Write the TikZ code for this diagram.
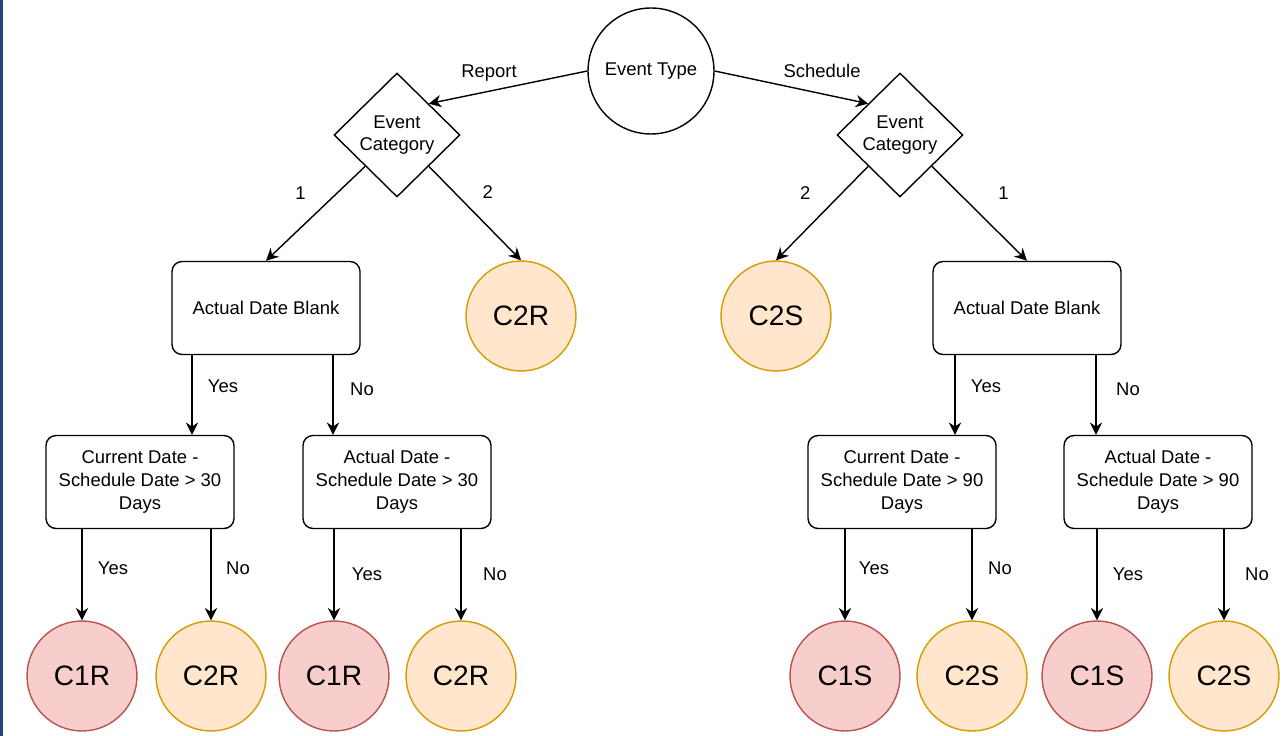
\documentclass[tikz,border=0pt]{standalone}
\usepackage{fontspec}
\setmainfont{Liberation Sans}
\usetikzlibrary{shapes.geometric, arrows.meta}
\definecolor{sidebarcolor}{RGB}{31,73,125}
\definecolor{redfill}{HTML}{F8CECC}
\definecolor{reddraw}{HTML}{B85450}
\definecolor{orangefill}{HTML}{FFE6CC}
\definecolor{orangedraw}{HTML}{D79B00}

\begin{document}
\begin{tikzpicture}[
	x=0.02cm, y=-0.02cm,
	line width=0.8pt,
	every node/.style={font=\fontsize{10.5}{13}\selectfont, align=center},
	root/.style={circle, draw, minimum size=2.52cm, inner sep=0pt},
	decision/.style={diamond, draw, minimum width=2.52cm, minimum height=2.48cm, inner sep=0pt},
	test/.style={rectangle, draw, rounded corners=0.2cm, minimum width=3.76cm, minimum height=1.86cm, inner sep=0pt},
	cone/.style={circle, draw=reddraw, fill=redfill, minimum size=2.2cm, inner sep=0pt, font=\fontsize{16}{19}\selectfont},
	ctwo/.style={circle, draw=orangedraw, fill=orangefill, minimum size=2.2cm, inner sep=0pt, font=\fontsize{16}{19}\selectfont},
	arr/.style={-{Stealth[length=7pt, width=7pt]}},
	lbl/.style={inner sep=0pt},
]
% \vconnect{parent}{child}{x}{pos}{shift}{label}: vertical arrow at x.
\def\vconnect#1#2#3#4#5#6{
	\draw[arr] (#1.south -| #3) -- (#2.north -| #3)
		node[lbl, pos=#4, xshift=#5]{#6};
}
% \outcome[style](name){x}{text}: class circle on the bottom row.
\def\outcome[#1](#2)#3#4{
	\node[#1] (#2) at (#3,676) {#4};
}
	\useasboundingbox (0,0) rectangle (1284,736);
	\fill[sidebarcolor] (0,0) rectangle (3,736);

	\node[root] (ET) at (651,71) {Event Type};
	\node[decision] (LD) at (397,135) {Event\\Category};
	\node[decision] (RD) at (900,135) {Event\\Category};
	\draw[arr] (ET.west) -- (LD.north east)
		node[lbl, pos=.62, yshift=.37cm]{Report};
	\draw[arr] (ET.east) -- (RD.north west)
		node[lbl, pos=.7, yshift=.46cm]{Schedule};

	\node[test] (LB) at (266,308) {Actual Date Blank};
	\node[ctwo] (LC2) at (521,316) {C2R};
	\node[ctwo] (RC2) at (776,316) {C2S};
	\node[test] (RB) at (1027,308) {Actual Date Blank};
	\draw[arr] (LD.south west) -- (LB.north)
		node[lbl, pos=.28, xshift=-.74cm]{1};
	\draw[arr] (LD.south east) -- (LC2.north)
		node[lbl, pos=.27, xshift=.68cm]{2};
	\draw[arr] (RD.south west) -- (RC2.north)
		node[lbl, pos=.28, xshift=-.74cm]{2};
	\draw[arr] (RD.south east) -- (RB.north)
		node[lbl, pos=.28, xshift=.9cm]{1};

	% second row of tests
	\node[test] (LCA) at (140,482) {Current Date -\\Schedule Date > 30\\Days};
	\node[test] (LAA) at (397,482) {Actual Date -\\Schedule Date > 30\\Days};
	\node[test] (RCA) at (902,482) {Current Date -\\Schedule Date > 90\\Days};
	\node[test] (RAA) at (1158,482) {Actual Date -\\Schedule Date > 90\\Days};
	\coordinate (ly) at (192,0);
	\coordinate (ln) at (333,0);
	\coordinate (ry) at (955,0);
	\coordinate (rn) at (1096,0);
	\vconnect{LB}{LCA}{ly}{.39}{.62cm}{Yes}
	\vconnect{LB}{LAA}{ln}{.43}{.58cm}{No}
	\vconnect{RB}{RCA}{ry}{.39}{.62cm}{Yes}
	\vconnect{RB}{RAA}{rn}{.43}{.64cm}{No}

	% classes
	\outcome[cone](LCA1){82}{C1R}
	\outcome[ctwo](LCA2){211}{C2R}
	\outcome[cone](LAA1){334}{C1R}
	\outcome[ctwo](LAA2){461}{C2R}
	\outcome[cone](RCA1){845}{C1S}
	\outcome[ctwo](RCA2){972}{C2S}
	\outcome[cone](RAA1){1097}{C1S}
	\outcome[ctwo](RAA2){1224}{C2S}
	\vconnect{LCA}{LCA1}{LCA1}{.43}{.62cm}{Yes}
	\vconnect{LCA}{LCA2}{LCA2}{.43}{.54cm}{No}
	\vconnect{LAA}{LAA1}{LAA1}{.49}{.66cm}{Yes}
	\vconnect{LAA}{LAA2}{LAA2}{.49}{.68cm}{No}
	\vconnect{RCA}{RCA1}{RCA1}{.43}{.58cm}{Yes}
	\vconnect{RCA}{RCA2}{RCA2}{.43}{.56cm}{No}
	\vconnect{RAA}{RAA1}{RAA1}{.49}{.62cm}{Yes}
	\vconnect{RAA}{RAA2}{RAA2}{.49}{.66cm}{No}
\end{tikzpicture}
\end{document}
